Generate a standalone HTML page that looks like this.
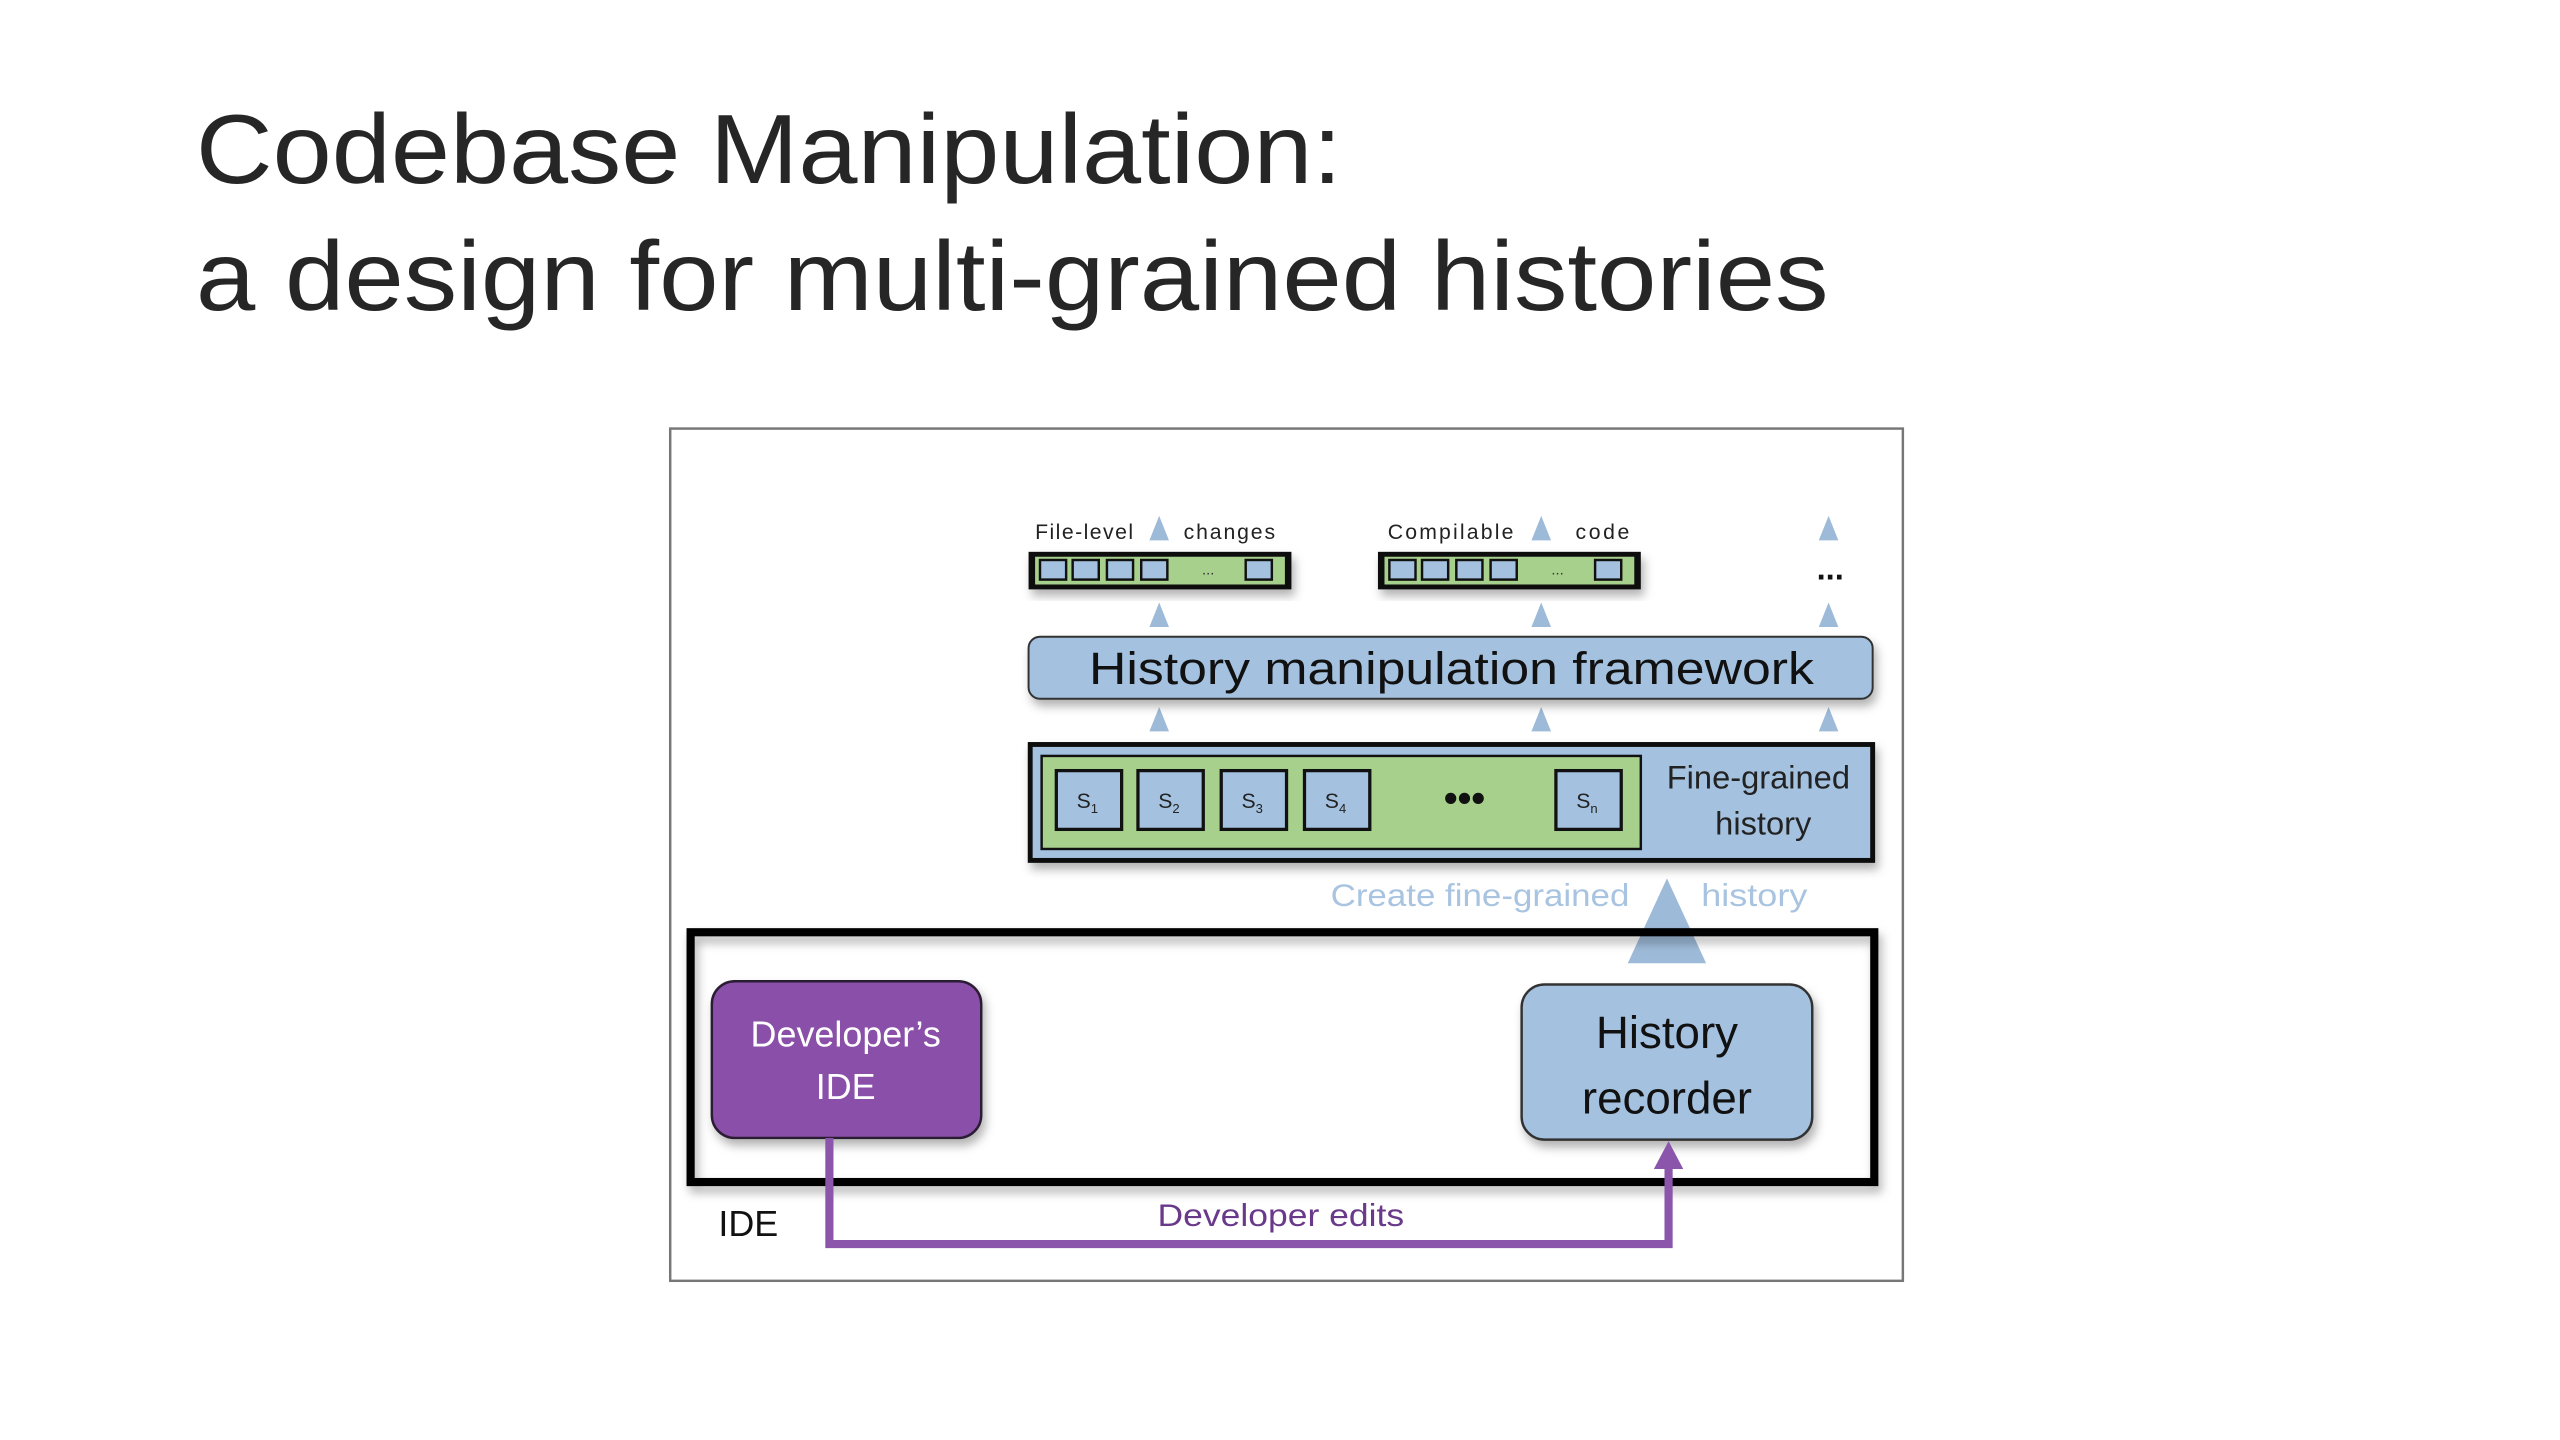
<!DOCTYPE html>
<html><head><meta charset="utf-8"><style>
html,body{margin:0;padding:0;background:#fff;}
svg{display:block;}
text{font-family:"Liberation Sans",sans-serif;}
</style></head><body>
<svg width="2560" height="1440" viewBox="0 0 1568 882" xmlns="http://www.w3.org/2000/svg">
<defs>
<filter id="sh" x="-10%" y="-30%" width="120%" height="160%"><feDropShadow dx="2" dy="4" stdDeviation="3" flood-color="#000" flood-opacity="0.3"/></filter>
</defs>
<rect width="1568" height="882" fill="#fff"/>
<text x="120" y="112" font-size="60" fill="#262626" textLength="702" lengthAdjust="spacingAndGlyphs">Codebase Manipulation:</text>
<text x="120" y="190" font-size="60" fill="#262626" textLength="1000" lengthAdjust="spacingAndGlyphs">a design for multi-grained histories</text>

<rect x="410.5" y="262.5" width="755" height="522" fill="#fff" stroke="#777" stroke-width="1.5"/>

<g font-size="13" fill="#222">
<text x="634" y="330" textLength="60">File-level</text><text x="725" y="330" textLength="56">changes</text>
<text x="850" y="330" textLength="77">Compilable</text><text x="965" y="330" textLength="33">code</text>
</g>
<g fill="#9dbad8">
<polygon points="710,316 704,331 716,331"/>
<polygon points="944,316 938,331 950,331"/>
<polygon points="1120,316 1114,331 1126,331"/>
<polygon points="710,369 704,384 716,384"/>
<polygon points="944,369 938,384 950,384"/>
<polygon points="1120,369 1114,384 1126,384"/>
<polygon points="710,433 704,448 716,448"/>
<polygon points="944,433 938,448 950,448"/>
<polygon points="1120,433 1114,448 1126,448"/>
</g>
<text x="1121" y="355" font-size="20" font-weight="bold" text-anchor="middle" fill="#111">...</text>

<g filter="url(#sh)">
<rect x="630" y="338" width="161" height="23" fill="#111"/>
<rect x="844" y="338" width="161" height="23" fill="#111"/>
</g>
<rect x="634" y="341" width="153" height="17" fill="#a8d08d"/>
<rect x="848" y="341" width="153" height="17" fill="#a8d08d"/>
<g fill="#a4c2e0" stroke="#111" stroke-width="1.5">
<rect x="637" y="343" width="16" height="12"/><rect x="657" y="343" width="16" height="12"/><rect x="678" y="343" width="16" height="12"/><rect x="699" y="343" width="16" height="12"/><rect x="763" y="343" width="16" height="12"/>
<rect x="851" y="343" width="16" height="12"/><rect x="871" y="343" width="16" height="12"/><rect x="892" y="343" width="16" height="12"/><rect x="913" y="343" width="16" height="12"/><rect x="977" y="343" width="16" height="12"/>
</g>
<text x="740" y="352" font-size="9" text-anchor="middle" fill="#333">...</text>
<text x="954" y="352" font-size="9" text-anchor="middle" fill="#333">...</text>

<rect x="630" y="390" width="517" height="38" rx="7" fill="#a4c2e0" stroke="#333" stroke-width="1.2" filter="url(#sh)"/>
<text x="667" y="419" font-size="28" fill="#111" textLength="444" lengthAdjust="spacingAndGlyphs">History manipulation framework</text>

<rect x="631" y="456" width="516" height="71" fill="#a4c2e0" stroke="#111" stroke-width="3" filter="url(#sh)"/>
<rect x="638" y="463" width="367" height="57" fill="#a8d08d" stroke="#111" stroke-width="1.5"/>
<g fill="#a4c2e0" stroke="#111" stroke-width="2">
<rect x="647" y="472" width="40" height="36"/><rect x="697" y="472" width="40" height="36"/><rect x="748" y="472" width="40" height="36"/><rect x="799" y="472" width="40" height="36"/><rect x="953" y="472" width="40" height="36"/>
</g>
<g font-size="13" fill="#222" text-anchor="middle">
<text x="666" y="495">S<tspan font-size="8" dy="3">1</tspan></text>
<text x="716" y="495">S<tspan font-size="8" dy="3">2</tspan></text>
<text x="767" y="495">S<tspan font-size="8" dy="3">3</tspan></text>
<text x="818" y="495">S<tspan font-size="8" dy="3">4</tspan></text>
<text x="972" y="495">S<tspan font-size="8" dy="3">n</tspan></text>
</g>
<text x="897" y="497" font-size="24" font-weight="bold" text-anchor="middle" fill="#111">•••</text>
<text x="1077" y="483" font-size="20" text-anchor="middle" fill="#222">Fine-grained</text>
<text x="1080" y="511" font-size="20" text-anchor="middle" fill="#222">history</text>

<text x="815" y="555" font-size="19" fill="#a9c4e0" textLength="183" lengthAdjust="spacingAndGlyphs">Create fine-grained</text>
<text x="1042" y="555" font-size="19" fill="#a9c4e0" textLength="65" lengthAdjust="spacingAndGlyphs">history</text>
<polygon points="1021,538 997,590 1045,590" fill="#9dbad8"/>

<rect x="423" y="571" width="725" height="153" fill="none" stroke="#000" stroke-width="5" filter="url(#sh)"/>
<rect x="436" y="601" width="165" height="96" rx="14" fill="#8a4fa8" stroke="#2a1a33" stroke-width="1.5" filter="url(#sh)"/>
<text x="518" y="641" font-size="22" text-anchor="middle" fill="#fff">Developer’s</text>
<text x="518" y="673" font-size="22" text-anchor="middle" fill="#fff">IDE</text>
<rect x="932" y="603" width="178" height="95" rx="14" fill="#a4c2e0" stroke="#333" stroke-width="1.5" filter="url(#sh)"/>
<text x="1021" y="642" font-size="28" text-anchor="middle" fill="#111">History</text>
<text x="1021" y="682" font-size="28" text-anchor="middle" fill="#111">recorder</text>

<polyline points="508,697 508,762 1022,762 1022,712" fill="none" stroke="#8a55aa" stroke-width="5"/>
<polygon points="1022,699 1013,716 1031,716" fill="#8a55aa"/>
<text x="709" y="751" font-size="19" fill="#6a3a8a" textLength="151" lengthAdjust="spacingAndGlyphs">Developer edits</text>
<text x="440" y="757" font-size="22" fill="#111">IDE</text>
</svg>
</body></html>
